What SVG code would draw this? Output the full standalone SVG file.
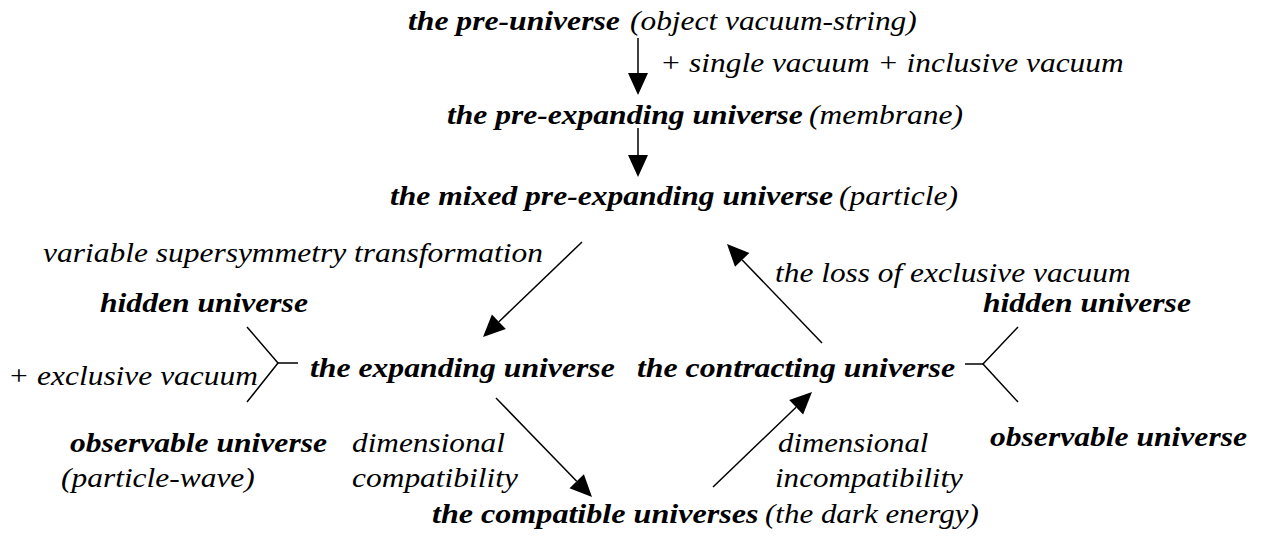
<svg xmlns="http://www.w3.org/2000/svg" width="1267" height="540" viewBox="0 0 1267 540">
<rect width="1267" height="540" fill="#fff"/>
<g id="connectors">
<g stroke="#000" stroke-width="1.5" fill="none">
<line x1="638" y1="38" x2="638" y2="75"/>
<line x1="638" y1="128" x2="638" y2="157"/>
<line x1="582" y1="242" x2="498.9" y2="321.8"/>
<line x1="822" y1="343" x2="742.2" y2="259.9"/>
<line x1="496" y1="398" x2="576.7" y2="481.2"/>
<line x1="713" y1="487" x2="796.1" y2="407.2"/>
<polyline points="247,327 278,363 247,402"/>
<line x1="278" y1="363" x2="298" y2="363"/>
<polyline points="1018,327 983,364 1018,402"/>
<line x1="965" y1="364" x2="983" y2="364"/>
</g>
<g fill="#000">
<polygon points="628,73 648,73 638,95"/>
<polygon points="628,155 648,155 638,177"/>
<polygon points="505.8,329 491.9,314.6 483,337"/>
<polygon points="735,266.8 749.4,252.9 727,244"/>
<polygon points="569.5,488.2 583.9,474.2 592,497"/>
<polygon points="803.1,414.4 789.2,400 812,392"/>
</g>
</g>
<g id="pre-universe">
<text font-family="Liberation Serif" font-size="27" font-style="italic" font-weight="bold" transform="translate(408,30) scale(1.173,1)">the pre-universe</text>
<text font-family="Liberation Serif" font-size="27" font-style="italic" transform="translate(630,30) scale(1.163,1)">(object vacuum-string)</text>
</g>
<g id="label-single">
<text font-family="Liberation Serif" font-size="27" font-style="italic" transform="translate(660,72) scale(1.164,1)">+ single vacuum + inclusive vacuum</text>
</g>
<g id="pre-expanding">
<text font-family="Liberation Serif" font-size="27" font-style="italic" font-weight="bold" transform="translate(447,124) scale(1.169,1)">the pre-expanding universe</text>
<text font-family="Liberation Serif" font-size="27" font-style="italic" transform="translate(809,124) scale(1.167,1)">(membrane)</text>
</g>
<g id="mixed">
<text font-family="Liberation Serif" font-size="27" font-style="italic" font-weight="bold" transform="translate(390,205) scale(1.17,1)">the mixed pre-expanding universe</text>
<text font-family="Liberation Serif" font-size="27" font-style="italic" transform="translate(839,205) scale(1.167,1)">(particle)</text>
</g>
<g id="label-variable">
<text font-family="Liberation Serif" font-size="27" font-style="italic" transform="translate(43,262) scale(1.166,1)">variable supersymmetry transformation</text>
</g>
<g id="label-loss">
<text font-family="Liberation Serif" font-size="27" font-style="italic" transform="translate(775,282) scale(1.163,1)">the loss of exclusive vacuum</text>
</g>
<g id="hidden-left">
<text font-family="Liberation Serif" font-size="27" font-style="italic" font-weight="bold" transform="translate(100,312) scale(1.17,1)">hidden universe</text>
</g>
<g id="hidden-right">
<text font-family="Liberation Serif" font-size="27" font-style="italic" font-weight="bold" transform="translate(983,312) scale(1.17,1)">hidden universe</text>
</g>
<g id="label-exclusive">
<text font-family="Liberation Serif" font-size="27" font-style="italic" transform="translate(8,385) scale(1.165,1)">+ exclusive vacuum</text>
</g>
<g id="expanding">
<text font-family="Liberation Serif" font-size="27" font-style="italic" font-weight="bold" transform="translate(310,377) scale(1.175,1)">the expanding universe</text>
</g>
<g id="contracting">
<text font-family="Liberation Serif" font-size="27" font-style="italic" font-weight="bold" transform="translate(637,377) scale(1.178,1)">the contracting universe</text>
</g>
<g id="observable-left">
<text font-family="Liberation Serif" font-size="27" font-style="italic" font-weight="bold" transform="translate(70,452) scale(1.17,1)">observable universe</text>
<text font-family="Liberation Serif" font-size="27" font-style="italic" transform="translate(61,487) scale(1.165,1)">(particle-wave)</text>
</g>
<g id="label-compat">
<text font-family="Liberation Serif" font-size="27" font-style="italic" transform="translate(352,452) scale(1.159,1)">dimensional</text>
<text font-family="Liberation Serif" font-size="27" font-style="italic" transform="translate(352,487) scale(1.165,1)">compatibility</text>
</g>
<g id="label-incompat">
<text font-family="Liberation Serif" font-size="27" font-style="italic" transform="translate(778,452) scale(1.14,1)">dimensional</text>
<text font-family="Liberation Serif" font-size="27" font-style="italic" transform="translate(775,487) scale(1.15,1)">incompatibility</text>
</g>
<g id="observable-right">
<text font-family="Liberation Serif" font-size="27" font-style="italic" font-weight="bold" transform="translate(990,446) scale(1.17,1)">observable universe</text>
</g>
<g id="compatible">
<text font-family="Liberation Serif" font-size="27" font-style="italic" font-weight="bold" transform="translate(432,523) scale(1.19,1)">the compatible universes</text>
<text font-family="Liberation Serif" font-size="27" font-style="italic" transform="translate(765,523) scale(1.147,1)">(the dark energy)</text>
</g>
</svg>
